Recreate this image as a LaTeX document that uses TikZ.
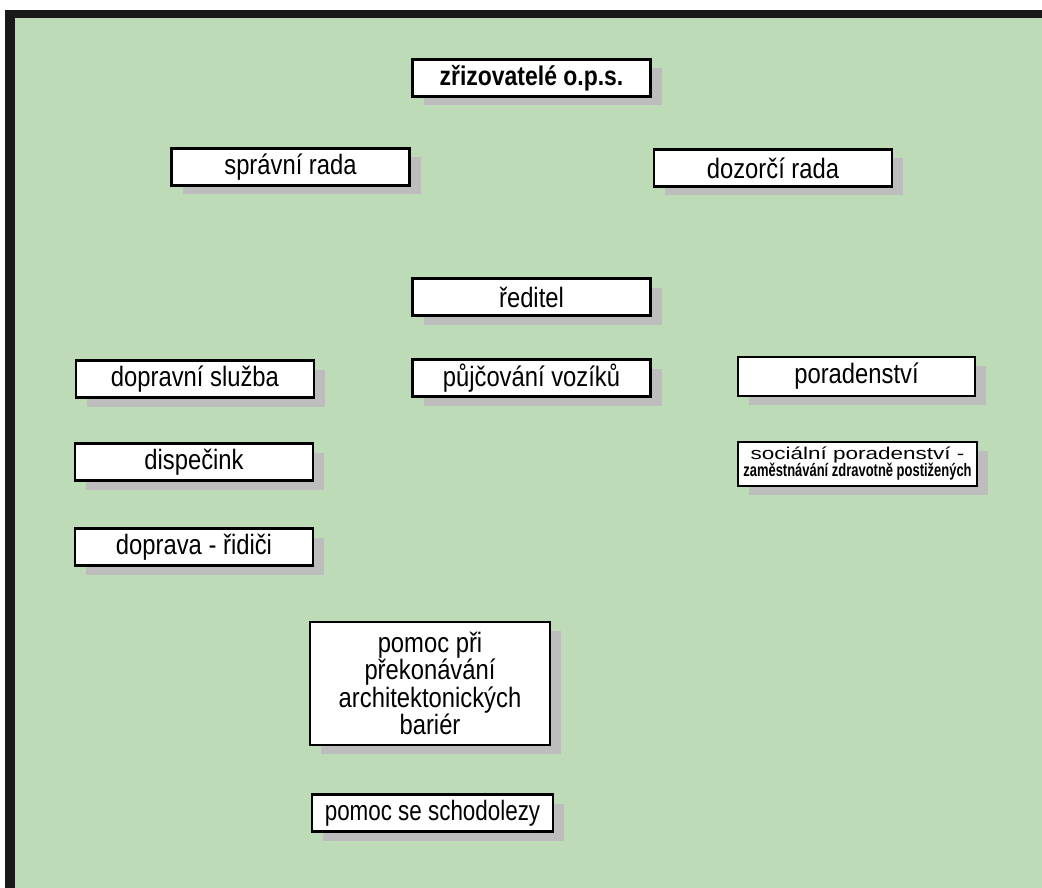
\documentclass[tikz,border=0pt]{standalone}
\usepackage{fontspec}
\setmainfont{Liberation Sans}
\usetikzlibrary{shadows}
\definecolor{bggreen}{HTML}{BDDBB6}
\definecolor{shadowgray}{HTML}{BDBDBD}
\tikzset{
  orgbox/.style={draw=black, line width=2.2pt, fill=white, minimum height=37pt,
    minimum width=238pt, inner sep=0pt, font=\fontsize{28}{28}\selectfont,
    drop shadow={shadow xshift=11pt, shadow yshift=-9pt, fill=shadowgray, opacity=1}},
}
\newcommand{\nar}[1]{\scalebox{0.85}[1]{#1}}
\begin{document}
\begin{tikzpicture}[x=1pt,y=-1pt]
\useasboundingbox (0,0) rectangle (1042,888);
\fill[white] (0,0) rectangle (1042,888);
\fill[bggreen] (5,10) rectangle (1042,888);
\fill[black!90] (5,10) rectangle (1042,18);
\fill[black!90] (5,10) rectangle (15,888);

\node[orgbox, font=\bfseries\fontsize{27}{27}\selectfont] (zriz) at (531.5,78) {\nar{zřizovatelé o.p.s.}};
\node[orgbox] (sprav) at (290.5,167) {\nar{správní rada}};
\node[orgbox] (dozor) at (773,168) {\nar{dozorčí rada}};
\node[orgbox] (redit) at (531.5,297) {\nar{ředitel}};
\node[orgbox] (doprs) at (195,379) {\nar{dopravní služba}};
\node[orgbox] (pujc) at (531.5,378) {\nar{půjčování vozíků}};
\node[orgbox, minimum width=237pt, minimum height=39pt] (porad) at (856.5,376.5) {\nar{poradenství}};
\node[orgbox] (disp) at (194,462) {\nar{dispečink}};
\node[orgbox, minimum width=239pt, minimum height=44pt, font=\fontsize{18}{18}\selectfont, align=center] (soc) at (857.5,464)
  {\scalebox{1.25}[0.95]{sociální poradenství -}\\[-1pt]\scalebox{0.72}[1]{\bfseries zaměstnávání zdravotně postižených}};
\node[orgbox] (ridic) at (194,547) {\nar{doprava - řidiči}};
\node[orgbox, minimum width=240pt, minimum height=123pt, align=center, font=\fontsize{28}{25}\selectfont] (bariery) at (430,683.5)
  {\nar{pomoc při}\\\nar{překonávání}\\\nar{architektonických}\\\nar{bariér}};
\node[orgbox, minimum width=241pt] (schod) at (432.5,813) {\scalebox{0.8}[1]{pomoc se schodolezy}};
\end{tikzpicture}
\end{document}
